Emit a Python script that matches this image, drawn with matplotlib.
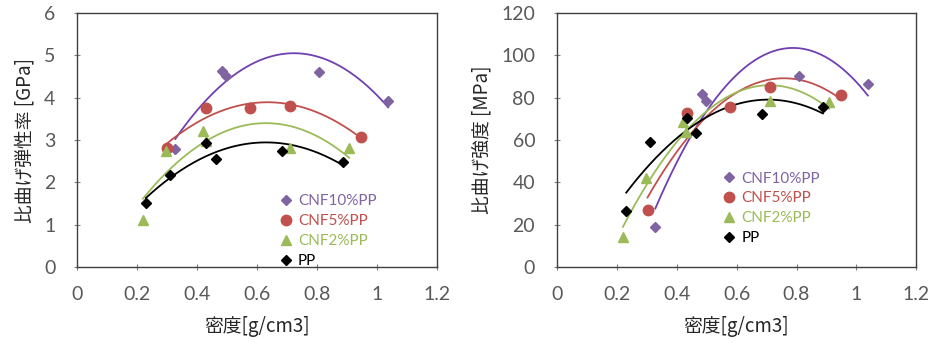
"""Specific flexural modulus / strength vs density for CNF/PP foams."""

import matplotlib
matplotlib.use("Agg")
import matplotlib.pyplot as plt
import numpy as np

plt.rcParams["font.family"] = ["Lato", "Noto Sans CJK JP", "DejaVu Sans"]

# --- data --------------------------------------------------------------
SERIES = ["CNF10%PP", "CNF5%PP", "CNF2%PP", "PP"]

mod_x_cnf10 = [0.328, 0.483, 0.498, 0.806, 1.038]
mod_y_cnf10 = [2.79, 4.63, 4.51, 4.60, 3.91]
mod_x_cnf5 = [0.301, 0.432, 0.577, 0.710, 0.948]
mod_y_cnf5 = [2.82, 3.76, 3.75, 3.80, 3.07]
mod_x_cnf2 = [0.220, 0.297, 0.421, 0.430, 0.710, 0.908]
mod_y_cnf2 = [1.12, 2.73, 3.21, 2.98, 2.80, 2.82]
mod_x_pp = [0.230, 0.310, 0.432, 0.463, 0.685, 0.887]
mod_y_pp = [1.51, 2.18, 2.93, 2.56, 2.74, 2.48]

str_x_cnf10 = [0.329, 0.484, 0.499, 0.809, 1.038]
str_y_cnf10 = [19.1, 81.9, 78.3, 90.0, 86.2]
str_x_cnf5 = [0.303, 0.434, 0.578, 0.711, 0.948]
str_y_cnf5 = [27.2, 72.8, 75.5, 85.1, 81.0]
str_x_cnf2 = [0.221, 0.299, 0.422, 0.431, 0.711, 0.909]
str_y_cnf2 = [14.2, 41.9, 68.7, 64.0, 78.3, 78.0]
str_x_pp = [0.232, 0.311, 0.434, 0.464, 0.685, 0.888]
str_y_pp = [26.6, 59.1, 70.6, 63.4, 72.3, 75.5]

X_TICKS = [0, 0.2, 0.4, 0.6, 0.8, 1, 1.2]
X_TICK_LABELS = ["0", "0.2", "0.4", "0.6", "0.8", "1", "1.2"]

# --- styles ---------------------------------------------------------------
MARKER_COLORS = ["#8064A2", "#C0504D", "#9BBB59", "#000000"]
LINE_COLORS = ["#7040B0", "#C0504D", "#9BBB59", "#000000"]
MARKERS = ["D", "o", "^", "D"]
MARKER_SIZES = [5, 7.5, 7, 5]
GREY = "#595959"


def draw_panel(ax, xs, ys, ylim, yticks, ylabel, legend_anchor):
    handles = []
    for i, (x, y) in enumerate(zip(xs, ys)):
        x = np.asarray(x)
        y = np.asarray(y)
        # Excel-style 2nd order polynomial trendline over the data range
        coef = np.polyfit(x, y, 2)
        xf = np.linspace(x.min(), x.max(), 200)
        ax.plot(xf, np.polyval(coef, xf), color=LINE_COLORS[i], lw=1.3, zorder=2)
        h, = ax.plot(x, y, ls="none", marker=MARKERS[i], ms=MARKER_SIZES[i],
                     color=MARKER_COLORS[i], mec=MARKER_COLORS[i], zorder=3,
                     label=SERIES[i])
        handles.append(h)

    ax.set_xlim(0, 1.2)
    ax.set_ylim(*ylim)
    ax.set_xticks(X_TICKS)
    ax.set_xticklabels(X_TICK_LABELS)
    ax.set_yticks(yticks)
    ax.tick_params(direction="inout", length=5, width=0.8, colors="#808080",
                   labelcolor=GREY, labelsize=14)
    ax.tick_params(axis="x", pad=11)
    ax.tick_params(axis="y", pad=13)
    for spine in ax.spines.values():
        spine.set_color("#404040")
        spine.set_linewidth(1.0)
    ax.set_xlabel("密度[g/cm3]", fontsize=13.5, color="#262626",
                  family=["Noto Sans CJK JP", "DejaVu Sans"], labelpad=9)
    ax.set_ylabel(ylabel, fontsize=13.5, color="#262626",
                  family=["Noto Sans CJK JP", "DejaVu Sans"], labelpad=6)

    leg = ax.legend(handles=handles, loc="upper left", bbox_to_anchor=legend_anchor,
                    frameon=False, fontsize=11, handlelength=0.6,
                    handletextpad=0.5, labelspacing=0.38, borderaxespad=0)
    for text, color in zip(leg.get_texts(), MARKER_COLORS):
        text.set_color(color)


fig = plt.figure(figsize=(9.32, 3.44), dpi=100)
ax1 = fig.add_axes([0.0826, 0.223, 0.386, 0.740])
ax2 = fig.add_axes([0.5973, 0.223, 0.386, 0.740])

draw_panel(ax1,
           [mod_x_cnf10, mod_x_cnf5, mod_x_cnf2, mod_x_pp],
           [mod_y_cnf10, mod_y_cnf5, mod_y_cnf2, mod_y_pp],
           (0, 6), [0, 1, 2, 3, 4, 5, 6], "比曲げ弾性率 [GPa]", (0.55, 0.31))
draw_panel(ax2,
           [str_x_cnf10, str_x_cnf5, str_x_cnf2, str_x_pp],
           [str_y_cnf10, str_y_cnf5, str_y_cnf2, str_y_pp],
           (0, 120), [0, 20, 40, 60, 80, 100, 120], "比曲げ強度 [MPa]", (0.45, 0.40))

fig.savefig("out.png", dpi=100)
